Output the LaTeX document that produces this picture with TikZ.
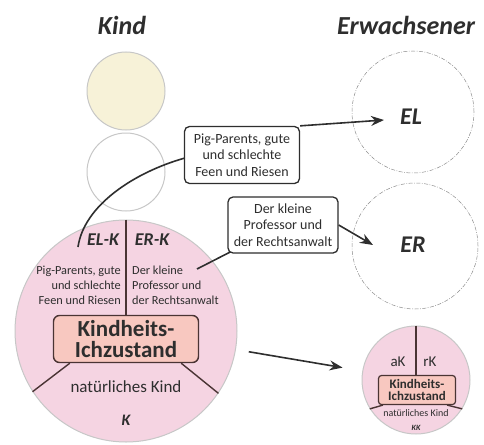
\documentclass[tikz,border=0pt]{standalone}
\usepackage{fontspec}
\setmainfont{Carlito}
\usetikzlibrary{arrows.meta,positioning,calc}
\definecolor{kpink}{HTML}{F5D4E2}
\definecolor{kbox}{HTML}{F8C8C0}
\definecolor{kline}{HTML}{4A3434}
\definecolor{kyellow}{HTML}{F7F2D8}
\definecolor{ink}{HTML}{2E2E2E}

\begin{document}
\begin{tikzpicture}[x=1pt, y=-1pt, every node/.style={inner sep=0pt, text=ink},
  ttl/.style={font=\fontsize{26}{28}\selectfont\bfseries\itshape},
  ring/.style={circle, draw=black!22, line width=1pt},
  grown/.style={circle, draw=black!45, line width=0.5pt, dash pattern=on 4pt off 1.5pt on 0.8pt off 1.5pt},
  part/.style={draw=kline, line width=1.4pt},
  callout/.style={draw=ink, line width=1.3pt, rounded corners=5pt, fill=white, align=center,
    font=\fontsize{14}{16.5}\selectfont},
  link/.style={draw=ink, line width=1.6pt},
  tip/.style={-{Stealth[length=13pt,width=10pt]}}]
  \useasboundingbox (0,0) rectangle (484,444);
  % titles
  \node[ttl] (kind) at (122,25) {Kind};
  \node[ttl] (erw)  at (406,25) {Erwachsener};
  % child side
  \node[ring, fill=kyellow, minimum size=78] (c1) at (126,91)  {};
  \node[ring, fill=white,   minimum size=78] (c2) at (126,172) {};
  \node[ring, fill=kpink,  minimum size=222] (kc) at (126,331) {};
  \node[draw=kline, line width=1.4pt, fill=kbox, rounded corners=6pt, minimum width=145,
    minimum height=47, align=center, font=\fontsize{23}{21}\selectfont\bfseries] (kbox) at (126,339)
    {Kindheits-\\Ichzustand};
  \draw[part] (kc.north) -- (kc.north |- kbox.north);
  \draw[part] ($(kbox.south west)+(17,0)$) -- (kc.213);
  \draw[part] ($(kbox.south east)+(-18,0)$) -- (kc.326);
  \node[font=\fontsize{18}{20}\selectfont\bfseries\itshape] (elk) at (103,240) {EL-K};
  \node[font=\fontsize{18}{20}\selectfont\bfseries\itshape] (erk) at (152,240) {ER-K};
  \node[anchor=east, align=right, font=\fontsize{12.3}{15}\selectfont] (elt) at (121,285)
    {Pig-Parents, gute\\und schlechte\\Feen und Riesen};
  \node[anchor=west, align=left, font=\fontsize{12.3}{15}\selectfont] (ert) at (132,285)
    {Der kleine\\Professor und\\der Rechtsanwalt};
  \node[font=\fontsize{17}{20}\selectfont] (nk) at (126,387) {natürliches Kind};
  \node[font=\fontsize{16}{18}\selectfont\bfseries\itshape] (k) at (126,420) {K};
  % adult side
  \node[grown, minimum size=122] (elc) at (413,112) {};
  \node[grown, minimum size=126] (erc) at (415,246) {};
  \node[font=\fontsize{24}{26}\selectfont\bfseries\itshape] (el) at (411,117) {EL};
  \node[font=\fontsize{24}{26}\selectfont\bfseries\itshape] (er) at (413,245) {ER};
  \node[ring, fill=kpink, minimum size=108] (sc) at (416,380) {};
  \node[draw=kline, line width=1.2pt, fill=kbox, rounded corners=3pt, minimum width=77,
    minimum height=29, align=center, font=\fontsize{13}{12.5}\selectfont\bfseries] (sbox) at (417,390)
    {Kindheits-\\Ichzustand};
  \draw[part] (sc.north) -- (sc.north |- sbox.north);
  \draw[part] ($(sbox.south west)+(5,0)$) -- (sc.212);
  \draw[part] ($(sbox.south east)+(-9,0)$) -- (sc.328);
  \node[font=\fontsize{15}{17}\selectfont] (ak) at (398,362) {aK};
  \node[font=\fontsize{15}{17}\selectfont] (rk) at (430,362) {rK};
  \node[font=\fontsize{10}{12}\selectfont] (snk) at (416,413) {natürliches Kind};
  \node[font=\fontsize{8}{9}\selectfont\bfseries\itshape] (kk) at (416,428) {KK};
  % connectors
  \coordinate (p1) at (78,247);
  \coordinate (p2) at (197,269);
  \coordinate (elend) at (384,120);
  \coordinate (erend) at (373,245);
  \draw[link] (p1) .. controls (84,205) and (135,172) .. (185,158);
  \draw[link] (p2) -- (283,225);
  \node[callout, minimum width=115, minimum height=57] (box1) at (242,155)
    {Pig-Parents, gute\\und schlechte\\Feen und Riesen};
  \node[callout, minimum width=110, minimum height=56] (box2) at (283,225)
    {Der kleine\\Professor und\\der Rechtsanwalt};
  \draw[link, tip] (box1.north east) -- (elend);
  \draw[link, tip] (box2.east) -- (erend);
  \draw[link, tip, shorten <=13pt, shorten >=20pt] (kc) -- (sc);
\end{tikzpicture}
\end{document}
